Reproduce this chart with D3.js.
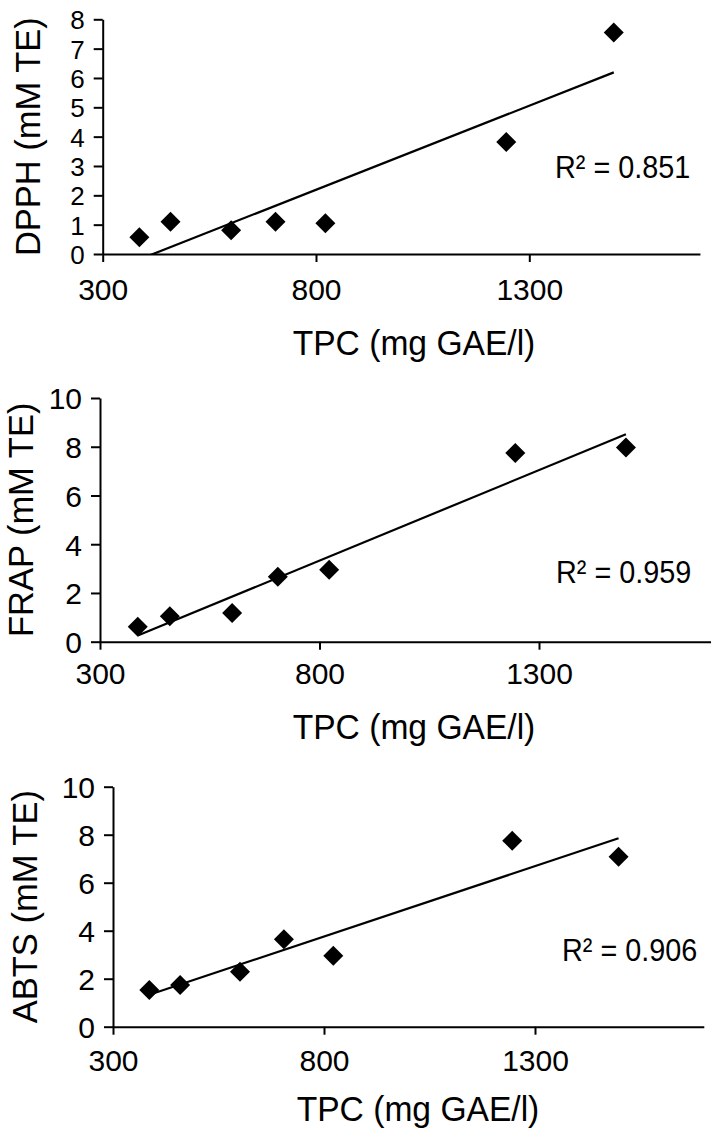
<!DOCTYPE html>
<html>
<head>
<meta charset="utf-8">
<script src="https://cdn.jsdelivr.net/npm/d3@7"></script>
<style>
  html, body { margin: 0; padding: 0; background: #fff; }
  svg { display: block; }
  text { font-family: "Liberation Sans", Arial, sans-serif; fill: #000; }
</style>
</head>
<body>
<svg id="chart" width="711" height="1137"></svg>
<script>
// ---- data ----
const tpc   = [386, 459, 601, 705, 822, 1246, 1498];   // TPC (mg GAE/l)
const dpph  = [0.57, 1.10, 0.81, 1.10, 1.05, 3.82, 7.55];
const frap  = [0.61, 1.04, 1.18, 2.67, 2.95, 7.74, 7.97];
const abts  = [1.53, 1.74, 2.29, 3.64, 2.96, 7.75, 7.08];
const xTicks = [300, 800, 1300];
const yTicksDpph = [0, 1, 2, 3, 4, 5, 6, 7, 8];
const yTicksTen  = [0, 2, 4, 6, 8, 10];
const yTitles = ["DPPH (mM TE)", "FRAP (mM TE)", "ABTS (mM TE)"];
const xTitle = "TPC (mg GAE/l)";
const r2Labels = ["R\u00B2 = 0.851", "R\u00B2 = 0.959", "R\u00B2 = 0.906"];

// ---- layout (positions only) ----
const panels = [
  { values: dpph, yTicks: yTicksDpph, yMax: 8,  left: 102.7, x800: 316,   top: 19.3, bottom: 254, yFont: 26,
    yTitleX: 28, xTitleX: 414, xTitleY: 355, r2X: 555, r2Y: 178, xLabOff: 46 },
  { values: frap, yTicks: yTicksTen,  yMax: 10, left: 100,   x800: 319.5, top: 398,  bottom: 641.7, yFont: 30,
    yTitleX: 21, xTitleX: 414, xTitleY: 739, r2X: 556, r2Y: 583, xLabOff: 42 },
  { values: abts, yTicks: yTicksTen,  yMax: 10, left: 113,   x800: 324,   top: 786.7, bottom: 1026.7, yFont: 30,
    yTitleX: 25, xTitleX: 418, xTitleY: 1121, r2X: 562, r2Y: 961, xLabOff: 44 }
];

const svg = d3.select("#chart");

function regression(xs, ys) {
  const mx = d3.mean(xs), my = d3.mean(ys);
  let sxy = 0, sxx = 0;
  xs.forEach((x, i) => { sxy += (x - mx) * (ys[i] - my); sxx += (x - mx) * (x - mx); });
  const b = sxy / sxx;
  return { b, a: my - b * mx };
}

panels.forEach((p, idx) => {
  const pxPer = (p.x800 - p.left) / 500;
  const x = d3.scaleLinear().domain([300, 1700]).range([p.left, p.left + 1400 * pxPer]);
  const y = d3.scaleLinear().domain([0, p.yMax]).range([p.bottom, p.top]);
  const g = svg.append("g");

  // clip
  const clipId = "clip" + idx;
  svg.append("clipPath").attr("id", clipId).append("rect")
    .attr("x", p.left).attr("y", p.top - 5)
    .attr("width", 711 - p.left).attr("height", p.bottom - p.top + 5);

  // x axis
  const xAxis = g.append("g").attr("transform", `translate(0,${p.bottom})`)
    .call(d3.axisBottom(x).tickValues(xTicks).tickSize(8).tickSizeOuter(0).tickFormat(d3.format("d")));
  xAxis.select(".domain").attr("stroke", "#000").attr("stroke-width", 2);
  xAxis.selectAll(".tick line").attr("stroke", "#000").attr("stroke-width", 2);
  xAxis.selectAll(".tick text").attr("y", p.xLabOff).attr("dy", 0)
    .style("font-family", "'Liberation Sans', Arial, sans-serif").style("font-size", "30px").attr("fill", "#000");

  // y axis
  const yAxis = g.append("g").attr("transform", `translate(${p.left},0)`)
    .call(d3.axisLeft(y).tickValues(p.yTicks).tickSize(9).tickPadding(9).tickSizeOuter(0));
  yAxis.select(".domain").attr("stroke", "#000").attr("stroke-width", 2);
  yAxis.selectAll(".tick line").attr("stroke", "#000").attr("stroke-width", 2);
  yAxis.selectAll(".tick text").attr("dy", "0.36em")
    .style("font-family", "'Liberation Sans', Arial, sans-serif").style("font-size", p.yFont + "px").attr("fill", "#000");

  // trend line
  const r = regression(tpc, p.values);
  const x0 = d3.min(tpc), x1 = d3.max(tpc);
  g.append("line")
    .attr("clip-path", `url(#${clipId})`)
    .attr("x1", x(x0)).attr("y1", y(r.a + r.b * x0))
    .attr("x2", x(x1)).attr("y2", y(r.a + r.b * x1))
    .attr("stroke", "#000").attr("stroke-width", 2.2);

  // markers
  const sym = d3.symbol().type(d3.symbolSquare).size(200);
  g.selectAll("path.pt").data(tpc).join("path").attr("class", "pt")
    .attr("d", sym)
    .attr("transform", (d, i) => `translate(${x(d)},${y(p.values[i])}) rotate(45)`)
    .attr("fill", "#000");

  // titles
  g.append("text")
    .attr("transform", `translate(${p.yTitleX},${(p.top + p.bottom) / 2}) rotate(-90)`)
    .attr("text-anchor", "middle").attr("dy", "0.36em")
    .style("font-size", "34.5px").text(yTitles[idx]);
  g.append("text")
    .attr("transform", `translate(${p.xTitleX},${p.xTitleY}) scale(0.96,1)`)
    .attr("text-anchor", "middle")
    .style("font-size", "35px").text(xTitle);
  g.append("text")
    .attr("transform", `translate(${p.r2X},${p.r2Y}) scale(0.9,1)`)
    .style("font-size", "32px").text(r2Labels[idx]);
});
</script>
</body>
</html>
